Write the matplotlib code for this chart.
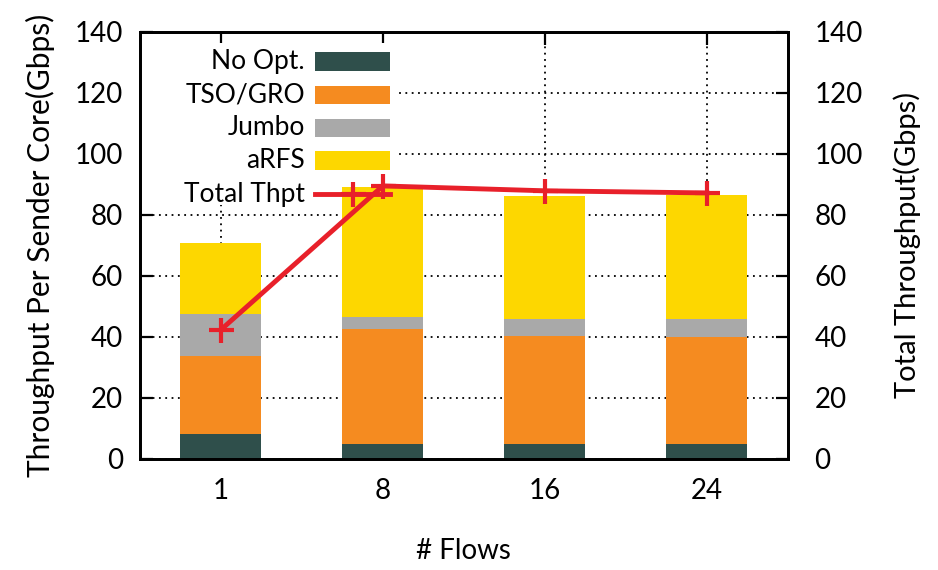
import matplotlib
matplotlib.use("Agg")
import matplotlib.pyplot as plt
from matplotlib.patches import Rectangle
from matplotlib.lines import Line2D
import numpy as np

plt.rcParams['font.family'] = ['Lato', 'DejaVu Sans']

flows = ["1", "8", "16", "24"]
no_opt = [8.3, 4.9, 4.9, 4.9]
tso_gro = [25.4, 37.8, 35.3, 35.0]
jumbo = [13.8, 3.8, 5.7, 6.0]
arfs = [23.4, 42.8, 40.3, 40.6]
total_thpt = [42.3, 89.5, 87.9, 87.2]

yticks = [0, 20, 40, 60, 80, 100, 120, 140]

c_noopt = "#2f4f4b"
c_tso = "#f58b20"
c_jumbo = "#a9a9a9"
c_arfs = "#fdd700"
c_total = "#e8202a"

fig = plt.figure(figsize=(9.38, 5.70), dpi=100)
ax = fig.add_axes([0.149, 0.195, 0.691, 0.749])

x = np.arange(len(flows))
w = 0.5
bottom = np.zeros(len(flows))
series = [("No Opt.", no_opt, c_noopt), ("TSO/GRO", tso_gro, c_tso),
          ("Jumbo", jumbo, c_jumbo), ("aRFS", arfs, c_arfs)]
for _, vals, col in series:
    ax.bar(x, vals, w, bottom=bottom, color=col, zorder=2)
    bottom += np.array(vals)

ax.plot(x, total_thpt, color=c_total, lw=3.5, marker='+', ms=18, mew=3, zorder=4)

ax.set_xlim(-0.5, 3.5)
ax.set_ylim(0, 140)
ax.set_xticks(x)
ax.set_xticklabels(flows)
ax.set_yticks(yticks)
ax.grid(True, color='black', linestyle=(0, (1, 2.5)), linewidth=1.3, zorder=0.5)
ax.set_axisbelow(True)

# white box behind the key so grid lines do not run through it
ax.add_patch(Rectangle((0.0, 0.595), 0.395, 0.38, transform=ax.transAxes,
                       facecolor='white', edgecolor='none', zorder=0.8))

for s in ax.spines.values():
    s.set_linewidth(2)
ax.tick_params(axis='both', direction='in', length=9, width=1.6, labelsize=20,
               top=True, right=False, pad=12)
ax.tick_params(axis='x', pad=14)

ax2 = ax.twinx()
ax2.set_ylim(0, 140)
ax2.set_yticks(yticks)
ax2.tick_params(axis='y', direction='in', length=9, width=1.6, labelsize=20, pad=19)
for s in ax2.spines.values():
    s.set_linewidth(2)

ax.set_xlabel("# Flows", fontsize=20, labelpad=24)
ax.set_ylabel("Throughput Per Sender Core(Gbps)", fontsize=21.5, labelpad=14)
ax2.set_ylabel("Total Throughput(Gbps)", fontsize=21, labelpad=22)

# key: right-aligned labels followed by swatches
row_y = [0.930, 0.852, 0.775, 0.698, 0.620]
text_x = 0.255
sw_x0, sw_x1 = 0.271, 0.386
sw_h = 0.044
for (label, _, col), yy in zip(series, row_y):
    ax.text(text_x, yy, label, transform=ax.transAxes, ha='right', va='center',
            fontsize=19, zorder=6)
    ax.add_patch(Rectangle((sw_x0, yy - sw_h / 2), sw_x1 - sw_x0, sw_h,
                           transform=ax.transAxes, facecolor=col,
                           edgecolor='none', zorder=6))
yy = row_y[-1]
ax.text(text_x, yy, "Total Thpt", transform=ax.transAxes, ha='right',
        va='center', fontsize=19, zorder=6)
ax.add_line(Line2D([sw_x0, sw_x1], [yy, yy], transform=ax.transAxes,
                   color=c_total, lw=3.5, zorder=6))
ax.add_line(Line2D([(sw_x0 + sw_x1) / 2], [yy], transform=ax.transAxes,
                   color=c_total, marker='+', ms=18, mew=3, zorder=6))

fig.savefig("out.png", dpi=100)
